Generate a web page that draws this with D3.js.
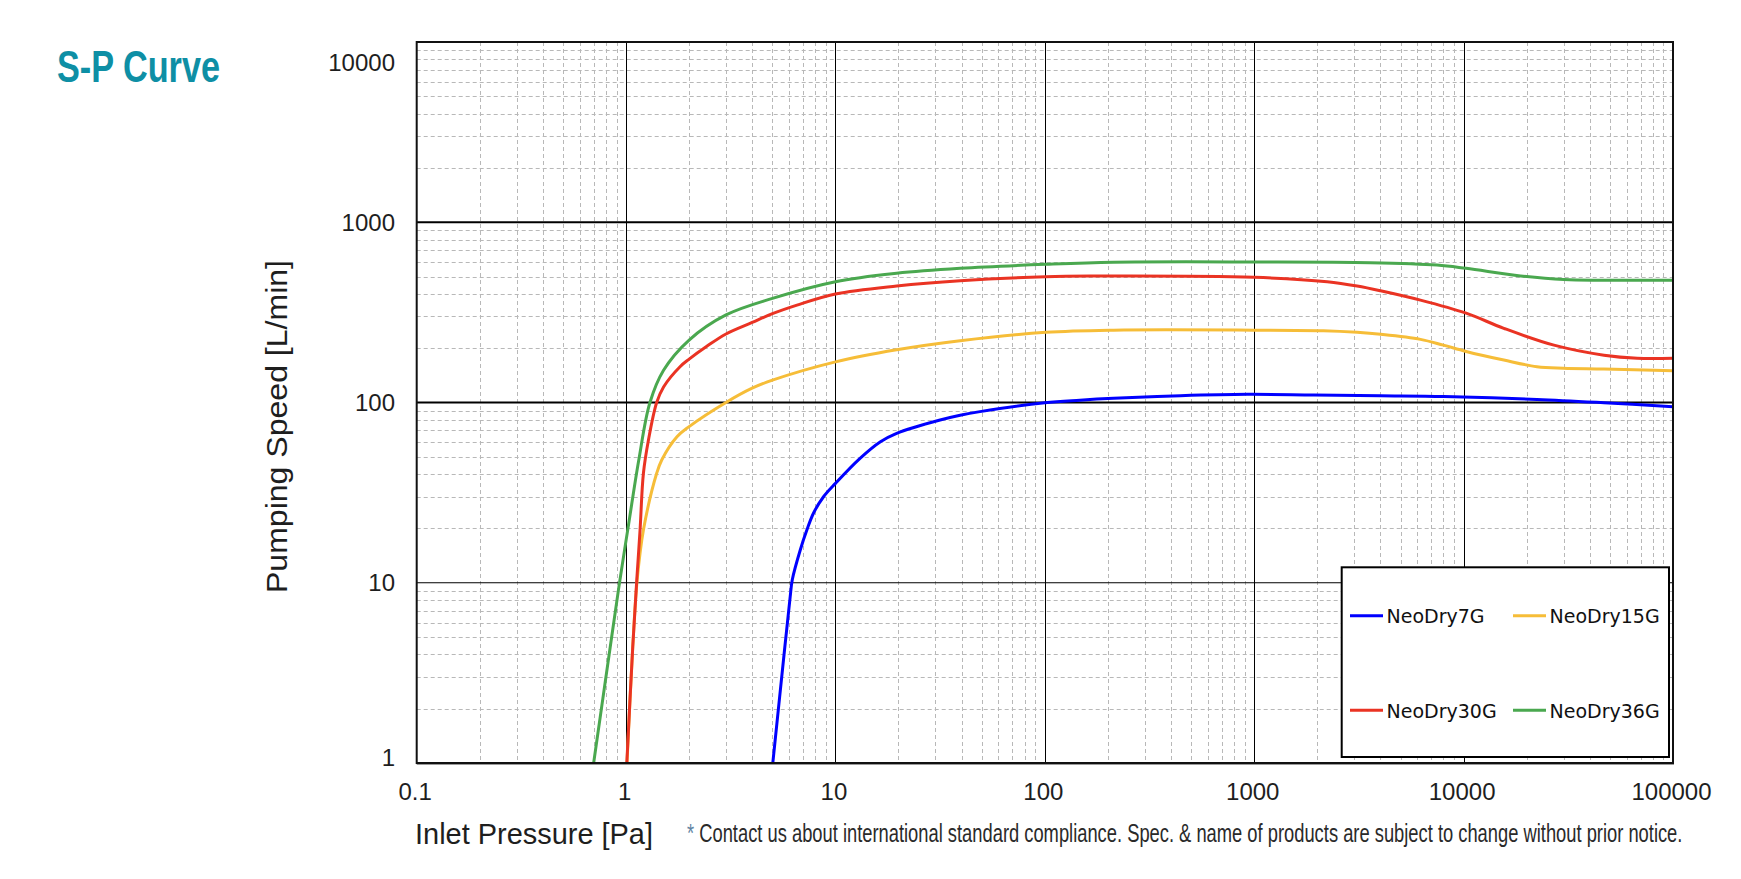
<!DOCTYPE html>
<html>
<head>
<meta charset="utf-8">
<script src="https://cdn.jsdelivr.net/npm/d3@7"></script>
<style>
  html, body { margin: 0; padding: 0; background: #fff; }
  svg { display: block; }
</style>
</head>
<body>
<svg id="chart" width="1741" height="879"></svg>
<script>
// ---------------- DATA ----------------
const seriesNames = ["NeoDry7G", "NeoDry15G", "NeoDry30G", "NeoDry36G"];
const seriesColors = ["#0000ff", "#f6bd38", "#ea3323", "#4aa84f"];

const pressure7G = [5.02, 5.73, 6.08, 6.22, 6.79, 7.3, 7.85, 8.77, 10, 13.1, 16.4, 19.6, 31.6, 39.4, 49, 100, 147, 213, 444, 925, 1925, 4010, 8040, 22400, 46800, 100000];
const speed7G    = [1, 4.4, 8.4, 10.4, 15.2, 19.6, 24.3, 30, 35.6, 49, 60.6, 67.5, 80, 85, 89, 99.7, 103, 105.5, 109, 111, 110, 109, 108, 104, 99.7, 94.8];

const pressure15G = [1.01, 1.076, 1.13, 1.21, 1.40, 1.48, 1.75, 2, 3, 4, 5, 10, 19.6, 39.4, 101, 213, 1000, 2140, 3100, 4010, 6220, 8000, 10280, 15560, 22400, 30000, 46800, 100000];
const speed15G    = [1, 4.4, 10.4, 19.6, 40.5, 48, 64.6, 73.5, 100, 120, 133, 168, 196, 220, 245, 252, 252, 250, 245, 239, 224, 208, 192, 172, 158, 155, 153.5, 150];

const pressure30G = [1.008, 1.076, 1.125, 1.166, 1.21, 1.279, 1.40, 1.51, 1.81, 2.0, 2.43, 3, 4, 5, 6.55, 10, 19.6, 39.4, 101, 165, 1000, 2230, 3100, 4010, 6220, 10280, 15560, 27000, 46800, 67500, 100000];
const speed30G    = [1, 4.4, 10.4, 19.6, 40.5, 62, 100, 122, 158, 174, 205, 240, 278, 311, 347, 400, 443, 474, 499, 503, 495, 468, 443, 417, 370, 313, 258, 208, 183, 176, 176];

const pressure36G = [0.70, 0.84, 0.935, 1.03, 1.15, 1.30, 1.51, 2, 3, 5, 10, 19.6, 39.4, 101, 213, 1000, 3590, 7460, 10280, 18700, 30100, 100000];
const speed36G    = [1, 4.4, 10.4, 21.4, 48, 100, 151, 222, 306, 378, 468, 521, 555, 584, 600, 602, 597, 579, 555, 504, 482, 477];

const xTickValues = [0.1, 1, 10, 100, 1000, 10000, 100000];
const xTickLabels = ["0.1", "1", "10", "100", "1000", "10000", "100000"];
const yTickValues = [1, 10, 100, 1000, 10000];
const yTickLabels = ["1", "10", "100", "1000", "10000"];
const minorMultipliers = [2, 3, 4, 5, 6, 7, 8, 9];

const titleText = "S-P Curve";
const xTitle = "Inlet Pressure [Pa]";
const yTitle = "Pumping Speed [L/min]";
const noteStar = "*";
const noteText = " Contact us about international standard compliance. Spec. & name of products are subject to change without prior notice.";

// ---------------- LAYOUT ----------------
const svg = d3.select("#chart");
const plot = { left: 416.7, right: 1673, top: 42, bottom: 763 };

const x = d3.scaleLog().domain([0.1, 100000]).range([plot.left, plot.right]);
const y = d3.scaleLog().domain([1, 10000]).range([plot.bottom, plot.top]);

const series = [
  { name: seriesNames[0], color: seriesColors[0], p: pressure7G,  s: speed7G },
  { name: seriesNames[1], color: seriesColors[1], p: pressure15G, s: speed15G },
  { name: seriesNames[2], color: seriesColors[2], p: pressure30G, s: speed30G },
  { name: seriesNames[3], color: seriesColors[3], p: pressure36G, s: speed36G }
];

// Title
svg.append("text")
  .attr("x", 57).attr("y", 82)
  .attr("font-family", "'Liberation Sans Narrow', 'Liberation Sans', Arial, sans-serif")
  .attr("font-weight", "bold")
  .attr("font-size", 44)
  .attr("fill", "#0e8fa5")
  .attr("textLength", 163)
  .attr("lengthAdjust", "spacingAndGlyphs")
  .text(titleText);

// Grid
const minorOf = decades => decades.slice(0, -1)
  .flatMap(d => minorMultipliers.map(m => d * m));
const xMinor = minorOf(xTickValues);
const yMinor = minorOf(yTickValues);

const grid = svg.append("g");
grid.selectAll("line.xminor").data(xMinor)
  .join("line").attr("class", "xminor")
  .attr("x1", d => Math.round(x(d)) + 0.5).attr("x2", d => Math.round(x(d)) + 0.5)
  .attr("y1", plot.top).attr("y2", plot.bottom)
  .attr("stroke", "#b8b8b8").attr("stroke-width", 1)
  .attr("stroke-dasharray", "4,3");

grid.selectAll("line.yminor").data(yMinor)
  .join("line").attr("class", "yminor")
  .attr("y1", d => Math.round(y(d)) + 0.5).attr("y2", d => Math.round(y(d)) + 0.5)
  .attr("x1", plot.left).attr("x2", plot.right)
  .attr("stroke", "#b8b8b8").attr("stroke-width", 1)
  .attr("stroke-dasharray", "4,3");

grid.selectAll("line.xmajor").data(xTickValues.slice(1, -1))
  .join("line").attr("class", "xmajor")
  .attr("x1", d => Math.round(x(d)) + 0.5).attr("x2", d => Math.round(x(d)) + 0.5)
  .attr("y1", plot.top).attr("y2", plot.bottom)
  .attr("stroke", "#000").attr("stroke-width", 1);

grid.selectAll("line.ymajor").data(yTickValues.slice(1, -1))
  .join("line").attr("class", "ymajor")
  .attr("y1", d => y(d)).attr("y2", d => y(d))
  .attr("x1", plot.left).attr("x2", plot.right)
  .attr("stroke", "#000")
  .attr("stroke-width", d => (d === 100 || d === 1000) ? 2 : 1);

// Curves
svg.append("clipPath").attr("id", "plotclip")
  .append("rect")
  .attr("x", plot.left).attr("y", plot.top)
  .attr("width", plot.right - plot.left).attr("height", plot.bottom - plot.top);

const line = d3.line()
  .x(d => x(d[0]))
  .y(d => y(d[1]))
  .curve(d3.curveCatmullRom.alpha(0.5));

const curves = svg.append("g").attr("clip-path", "url(#plotclip)");
series.forEach(sr => {
  const pts = sr.p.map((pv, i) => [pv, sr.s[i]]);
  curves.append("path")
    .datum(pts)
    .attr("d", line)
    .attr("fill", "none")
    .attr("stroke", sr.color)
    .attr("stroke-width", 3)
    .attr("stroke-linejoin", "round")
    .attr("stroke-linecap", "round");
});

// Frame
svg.append("rect")
  .attr("x", plot.left).attr("y", plot.top)
  .attr("width", plot.right - plot.left).attr("height", plot.bottom - plot.top)
  .attr("fill", "none").attr("stroke", "#111").attr("stroke-width", 2);
svg.append("line")
  .attr("x1", plot.left).attr("x2", plot.right + 1)
  .attr("y1", plot.bottom + 1.5).attr("y2", plot.bottom + 1.5)
  .attr("stroke", "#9a9a9a").attr("stroke-width", 1);

// Axes tick labels
const tickFont = "'Liberation Sans', Arial, Helvetica, sans-serif";
const xAxis = d3.axisBottom(x).tickValues(xTickValues)
  .tickFormat((d, i) => xTickLabels[i]).tickSize(0).tickPadding(0);
const gx = svg.append("g").attr("transform", "translate(-2,0)").call(xAxis);
gx.select(".domain").remove();
gx.selectAll("text")
  .attr("y", 800).attr("dy", 0)
  .attr("font-family", tickFont).attr("font-size", 24).attr("fill", "#1e1e1e");

const yLabels = svg.append("g");
yLabels.selectAll("text").data(yTickValues)
  .join("text")
  .attr("x", 395)
  .attr("y", d => Math.min(Math.max(y(d), 62), 757))
  .attr("dy", "0.36em")
  .attr("text-anchor", "end")
  .attr("font-family", tickFont).attr("font-size", 24).attr("fill", "#1e1e1e")
  .text((d, i) => yTickLabels[i]);

// Axis titles
svg.append("text")
  .attr("x", 415).attr("y", 844)
  .attr("font-family", tickFont).attr("font-size", 29).attr("fill", "#1e1e1e")
  .attr("textLength", 238).attr("lengthAdjust", "spacingAndGlyphs")
  .text(xTitle);

svg.append("text")
  .attr("transform", "translate(287,426.5) rotate(-90)")
  .attr("text-anchor", "middle")
  .attr("font-family", tickFont).attr("font-size", 29).attr("fill", "#1e1e1e")
  .attr("textLength", 333).attr("lengthAdjust", "spacingAndGlyphs")
  .text(yTitle);

// Footnote (condensed by horizontal scaling to the reference width)
const noteG = svg.append("g");
const note = noteG.append("text")
  .attr("x", 0).attr("y", 0)
  .attr("font-family", "'Liberation Sans Narrow', 'Liberation Sans', Arial, sans-serif")
  .attr("font-size", 26).attr("fill", "#2a2a2a");
note.append("tspan").attr("fill", "#5f84a3").text(noteStar);
note.append("tspan").text(noteText);
const natural = note.node().getComputedTextLength() || 1600;
noteG.attr("transform", `translate(687,842) scale(${996 / natural},1)`);

// Legend
const legend = svg.append("g");
legend.append("rect")
  .attr("x", 1341.7).attr("y", 567.3)
  .attr("width", 327.3).attr("height", 189.7)
  .attr("fill", "#fff").attr("stroke", "#000").attr("stroke-width", 2);

series.forEach((sr, i) => {
  const col = i % 2, row = Math.floor(i / 2);
  const lx = 1350 + col * 163;
  const ly = 615.7 + row * 94.6;
  legend.append("line")
    .attr("x1", lx).attr("x2", lx + 33)
    .attr("y1", ly).attr("y2", ly)
    .attr("stroke", sr.color).attr("stroke-width", 3);
  legend.append("text")
    .attr("x", lx + 36.5).attr("y", ly + 7.5)
    .attr("font-family", "'DejaVu Sans', Verdana, sans-serif")
    .attr("font-size", 19).attr("fill", "#111")
    .text(sr.name);
});
</script>
</body>
</html>
